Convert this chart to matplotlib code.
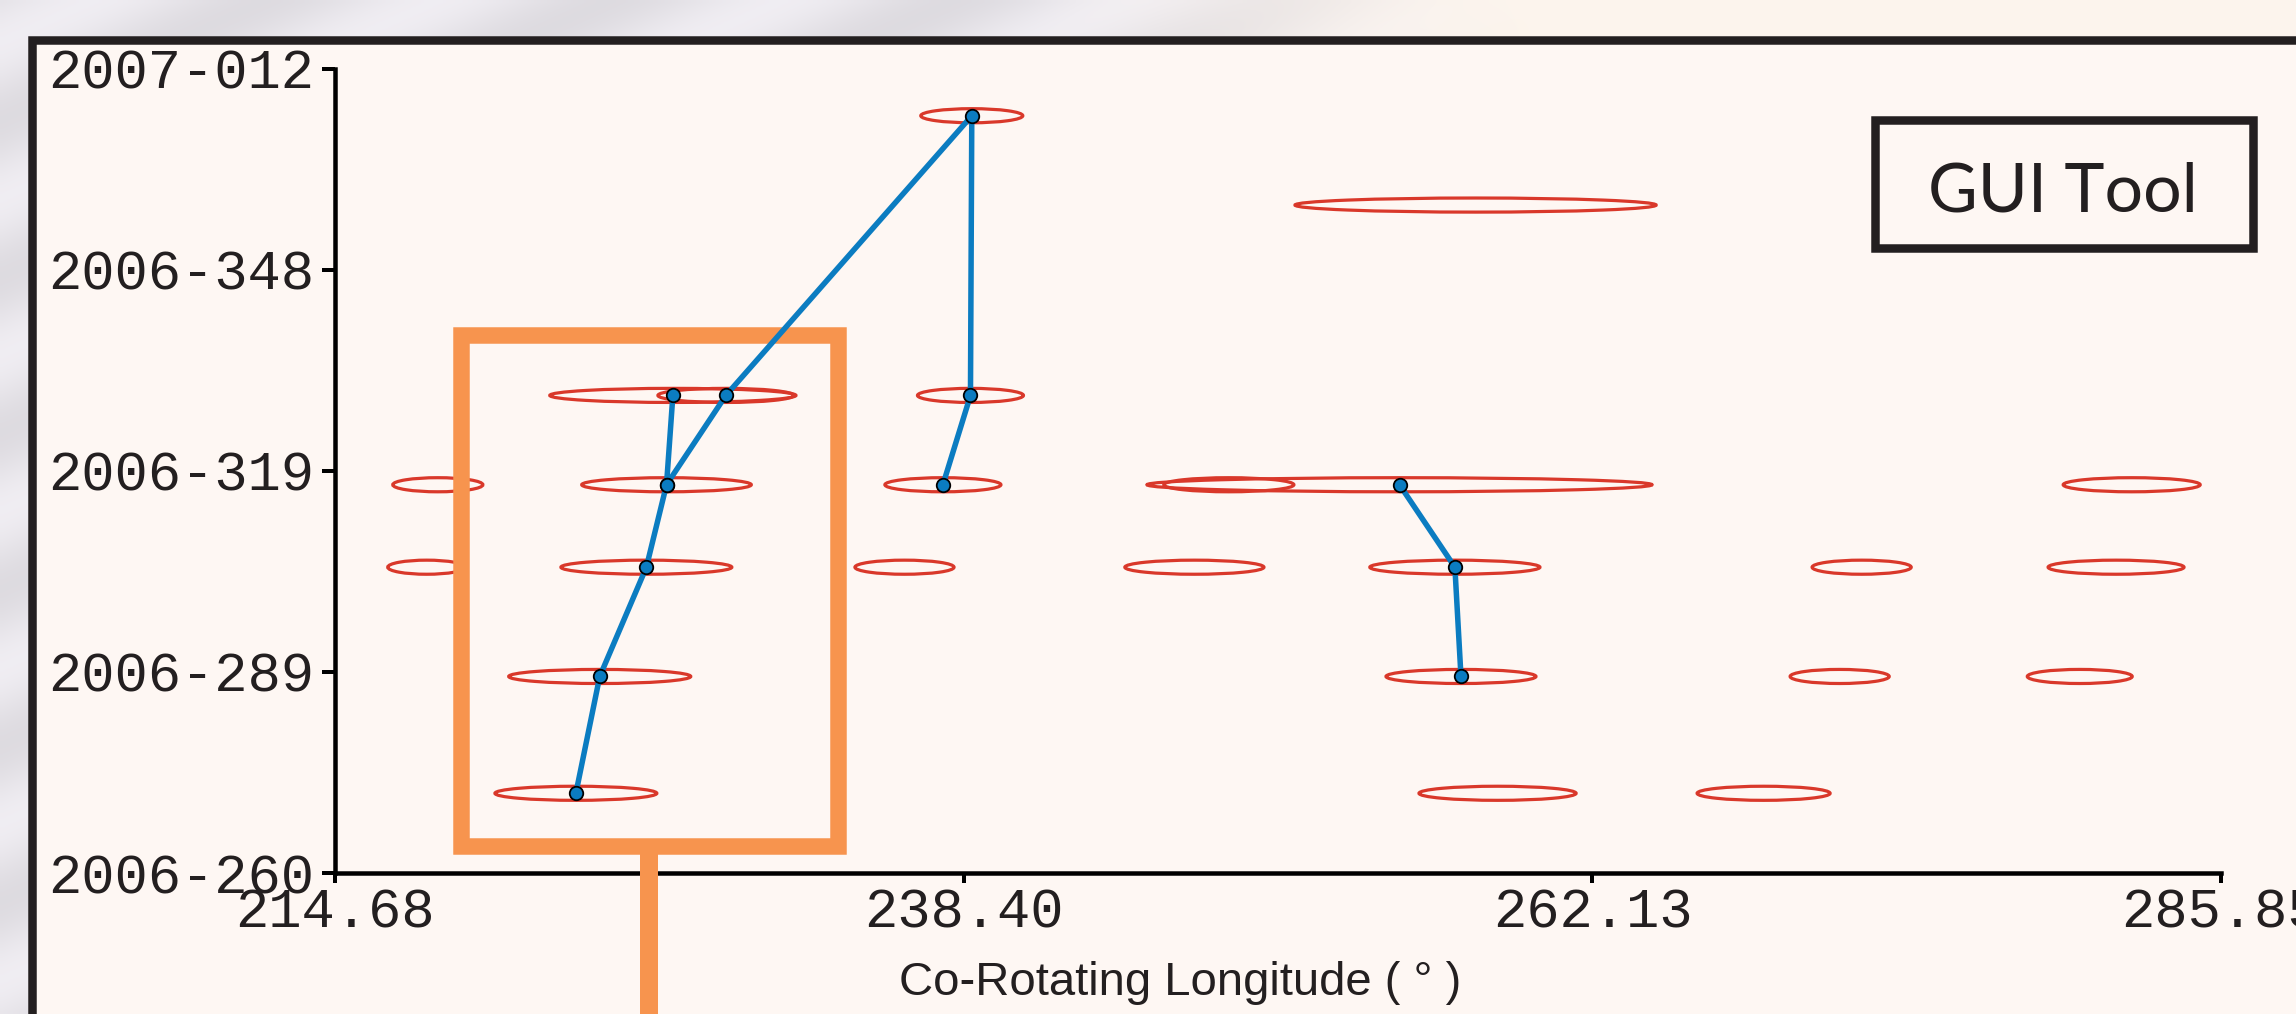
import matplotlib
matplotlib.use("Agg")
import matplotlib.pyplot as plt
import numpy as np
from matplotlib.patches import Ellipse, Rectangle

# ---------------- data ----------------
x_ticks = [214.68, 238.40, 262.13, 285.85]
x_tick_labels = ["214.68", "238.40", "262.13", "285.85"]
y_ticks = [260.0, 289.25, 318.5, 347.75, 377.0]
y_tick_labels = ["2006-260", "2006-289", "2006-319", "2006-348", "2007-012"]

# red ellipses: centre longitude, day of year (2006), longitude extent
ell_lon = [238.71, 257.72,
           227.43, 229.43, 238.66,
           218.56, 227.19, 237.62, 248.41, 254.85, 282.48,
           218.14, 226.43, 236.17, 247.11, 256.94, 272.29, 281.89,
           224.67, 257.17, 271.46, 280.52,
           223.77, 258.55, 268.59]
ell_day = [370.2, 357.2,
           329.5, 329.5, 329.5,
           316.5, 316.5, 316.5, 316.5, 316.5, 316.5,
           304.5, 304.5, 304.5, 304.5, 304.5, 304.5, 304.5,
           288.6, 288.6, 288.6, 288.6,
           271.6, 271.6, 271.6]
ell_width = [3.85, 13.63,
             9.29, 5.13, 4.00,
             3.40, 6.40, 4.38, 4.91, 19.06, 5.17,
             2.94, 6.45, 3.74, 5.25, 6.42, 3.74, 5.13,
             6.87, 5.66, 3.74, 3.96,
             6.11, 5.93, 5.02]

# blue tracks
track1_lon = [223.77, 224.67, 226.43, 227.19, 227.43]
track1_day = [271.6, 288.6, 304.5, 316.5, 329.5]
track2_lon = [227.19, 229.43, 238.71, 238.66, 237.62]
track2_day = [316.5, 329.5, 370.2, 329.5, 316.5]
track3_lon = [254.85, 256.94, 257.17]
track3_day = [316.5, 304.5, 288.6]

xlabel = "Co-Rotating Longitude ( \u00b0 )"
badge = "GUI Tool"

# ---------------- styles ----------------
W, H = 2296, 1014
ELL_H = 2.05
RED = "#D9382A"
BLUE = "#0B7CC1"
ORANGE = "#F7944E"
INK = "#231F20"
PANEL = "#FEF7F3"
PT = 0.72  # points per pixel at dpi 100

fig = plt.figure(figsize=(W / 100, H / 100), dpi=100)

# background (pixel coordinate axes)
bg = fig.add_axes([0, 0, 1, 1])
bg.set_xlim(0, W)
bg.set_ylim(H, 0)
bg.axis("off")
nx, ny = 460, 203
gx = np.linspace(0, 1, nx)[None, :]
gy = np.linspace(0, 1, ny)[:, None]
grey = np.array([0.905, 0.895, 0.915])
peach = np.array([0.992, 0.960, 0.930])
t = np.clip((gx - 0.45) / 0.22, 0, 1)
img = (1 - t)[..., None] * grey + t[..., None] * peach
img = np.broadcast_to(img, (ny, nx, 3)).copy()
streak = 0.035 * np.sin((gx * 2296 + gy * 1014 * 2.2) / 55.0) * (1 - t)
img = np.clip(img + streak[..., None], 0, 1)
bg.imshow(img, extent=[0, W, H, 0], aspect="auto", interpolation="bilinear", zorder=0)
bg.add_patch(Rectangle((32, 39.5), W, H, facecolor=PANEL, edgecolor=INK,
                       linewidth=8.5 * PT, zorder=1))

# main axes
ax = fig.add_axes([335 / W, (H - 873) / H, (2221 - 335) / W, (873 - 69) / H])
ax.patch.set_alpha(0)
ax.set_xlim(x_ticks[0], x_ticks[-1])
ax.set_ylim(y_ticks[0], y_ticks[-1])
for s in ["top", "right"]:
    ax.spines[s].set_visible(False)
for s in ["left", "bottom"]:
    ax.spines[s].set_linewidth(4.5 * PT)
    ax.spines[s].set_color("black")

ax.set_xticks(x_ticks)
ax.set_xticklabels(x_tick_labels)
ax.set_yticks(y_ticks)
ax.set_yticklabels(y_tick_labels)
for lab in ax.get_xticklabels() + ax.get_yticklabels():
    lab.set_fontfamily("Liberation Mono")
    lab.set_fontsize(40)
    lab.set_color(INK)
ax.tick_params(axis="y", direction="out", length=13 * PT, width=4 * PT, pad=6)
ax.tick_params(axis="x", direction="out", length=10 * PT, width=4 * PT, pad=3)

ax.set_xlabel(xlabel, family="Liberation Sans", size=34, color=INK, va="baseline")
ax.xaxis.set_label_coords((1180 - 335) / (2221 - 335), (873 - 995) / (873 - 69))

# ellipses
for lon, day, w in zip(ell_lon, ell_day, ell_width):
    ax.add_patch(Ellipse((lon, day), w, ELL_H, facecolor="none", edgecolor=RED,
                         linewidth=3.2 * PT, zorder=2))

# orange callout (drawn in pixel coordinates, between ellipses and tracks)
callout = Rectangle((461.25, 335.25), 837.75 - 461.25, 845.75 - 335.25,
                    transform=bg.transData, facecolor="none", edgecolor=ORANGE,
                    linewidth=16.5 * PT, joinstyle="miter", clip_on=False, zorder=3)
ax.add_patch(callout)
ax.plot([649, 649], [845, H + 5], transform=bg.transData, color=ORANGE,
        linewidth=18 * PT, solid_capstyle="butt", clip_on=False, zorder=3)

# tracks
for lons, days in [(track1_lon, track1_day), (track2_lon, track2_day), (track3_lon, track3_day)]:
    ax.plot(lons, days, color=BLUE, linewidth=5.5 * PT, zorder=4, clip_on=False)
    ax.plot(lons, days, linestyle="none", marker="o", markersize=13.5 * PT,
            markerfacecolor=BLUE, markeredgecolor="black", markeredgewidth=1.8 * PT,
            zorder=5, clip_on=False)

# GUI Tool badge
bg2 = fig.add_axes([0, 0, 1, 1], zorder=10)
bg2.set_xlim(0, W)
bg2.set_ylim(H, 0)
bg2.axis("off")
bg2.add_patch(Rectangle((1875.25, 120.25), 2252.75 - 1875.25, 247.75 - 120.25,
                        facecolor="none", edgecolor=INK, linewidth=8.5 * PT, joinstyle="miter"))
bg2.text(2063, 211.5, badge, family="Lato", size=49, color=INK,
         ha="center", va="baseline")

fig.savefig("out.png", dpi=100)
